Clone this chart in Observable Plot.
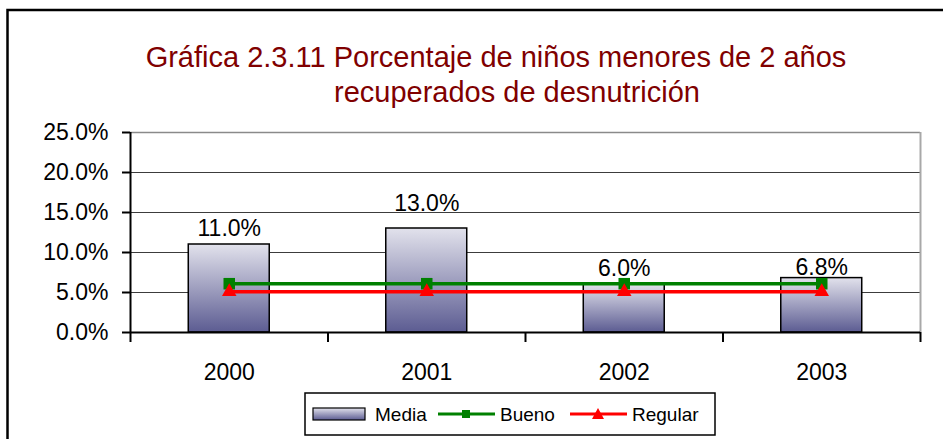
<!DOCTYPE html>
<html><head><meta charset="utf-8">
<script src="https://cdn.jsdelivr.net/npm/d3@7"></script>
<script src="https://cdn.jsdelivr.net/npm/@observablehq/plot@0.6"></script>
<style>
body{margin:0;background:#fff;font-family:"Liberation Sans",Arial,sans-serif;}
#wrap{position:relative;width:943px;height:439px;overflow:hidden;background:#fff;}
#chart{position:absolute;left:0;top:0;}
#overlay{position:absolute;left:0;top:0;pointer-events:none;}
</style></head><body>
<div id="wrap"><div id="chart"></div><svg id="overlay" width="943" height="439"></svg></div>
<script>
// ---- data ----
const years = [2000, 2001, 2002, 2003];
const media = [0.110, 0.130, 0.060, 0.068];
const bueno = [0.061, 0.061, 0.061, 0.061];
const regular = [0.051, 0.051, 0.051, 0.051];
const yTicks = [0, 0.05, 0.10, 0.15, 0.20, 0.25];
const seriesNames = ["Media", "Bueno", "Regular"];
const titleLines = ["Gráfica 2.3.11 Porcentaje de niños menores de 2 años", "recuperados de desnutrición"];

// ---- styling (not data) ----
const labelDy = [-9, -18, -9, -3];
const FONT = '"Liberation Sans", Arial, sans-serif';
const GREEN = "#008000", RED = "#ff0000";

const rows = years.map((y, i) => ({year: y, media: media[i], bueno: bueno[i], regular: regular[i]}));
const bounds = years.map(y => y - 0.5).concat([years[years.length - 1] + 0.5]);
const pct = d3.format(".1%");

const labelMarks = rows.map((r, i) => Plot.text([r], {
  x: "year", y: "media", text: d => pct(d.media), dy: labelDy[i],
  lineAnchor: "bottom", fontSize: 23, fill: "#000"
}));

const chart = Plot.plot({
  width: 943, height: 439,
  marginLeft: 130, marginRight: 23, marginTop: 132, marginBottom: 107,
  style: {fontFamily: FONT, fontSize: "23px", color: "#000", background: "transparent", overflow: "visible"},
  x: {type: "linear", domain: [bounds[0], bounds[bounds.length - 1]]},
  y: {domain: [0, 0.25]},
  marks: [
    Plot.ruleY(yTicks.slice(1, -1), {stroke: "#3c3c3c", strokeWidth: 1}),
    Plot.ruleY([yTicks[yTicks.length - 1]], {stroke: "#8a8a8a", strokeWidth: 1.5}),
    Plot.ruleX([bounds[bounds.length - 1]], {y1: 0, y2: 0.25, stroke: "#a8a8a8", strokeWidth: 2}),
    Plot.rect(rows, {x1: d => d.year - 0.205, x2: d => d.year + 0.205, y1: 0, y2: "media",
      fill: "url(#barGrad)", stroke: "#000", strokeWidth: 1.5}),
    Plot.line(rows, {x: "year", y: "bueno", stroke: GREEN, strokeWidth: 3.5}),
    Plot.line(rows, {x: "year", y: "regular", stroke: RED, strokeWidth: 3.5}),
    Plot.dot(rows, {x: "year", y: "bueno", symbol: "square", fill: GREEN, r: 6.5}),
    Plot.dot(rows, {x: "year", y: "regular", symbol: "triangle", fill: RED, r: 5.4}),
    ...labelMarks,
    Plot.axisY({ticks: yTicks, tickFormat: pct, tickSize: 8, tickPadding: 14, label: null,
      fontSize: 23, strokeWidth: 2}),
    Plot.ruleX([bounds[0]], {y1: 0, y2: 0.25, stroke: "#000", strokeWidth: 2}),
    Plot.ruleY([0], {stroke: "#000", strokeWidth: 2}),
    Plot.axisX({ticks: bounds, tickSize: 10, tickFormat: () => "", strokeWidth: 2, label: null}),
    Plot.axisX({ticks: years, tickSize: 0, tickPadding: 31, tickFormat: d => String(d),
      label: null, fontSize: 23})
  ]
});

// gradient for bars
const defs = d3.select(chart).insert("defs", ":first-child");
const g = defs.append("linearGradient").attr("id", "barGrad")
  .attr("x1", 0).attr("y1", 0).attr("x2", 0).attr("y2", 1);
g.append("stop").attr("offset", "0%").attr("stop-color", "#e2e2ec");
g.append("stop").attr("offset", "100%").attr("stop-color", "#5c5c92");
document.getElementById("chart").appendChild(chart);

// ---- overlay: frame, title, legend ----
const ov = d3.select("#overlay");
const od = ov.append("defs").append("linearGradient").attr("id", "legGrad")
  .attr("x1", 0).attr("y1", 0).attr("x2", 0).attr("y2", 1);
od.append("stop").attr("offset", "0%").attr("stop-color", "#e2e2ec");
od.append("stop").attr("offset", "100%").attr("stop-color", "#5c5c92");

ov.append("rect").attr("x", 7.5).attr("y", 10).attr("width", 1200).attr("height", 1200)
  .attr("fill", "none").attr("stroke", "#000").attr("stroke-width", 2.5);

const titlePos = [[496, 67], [517, 102]];
titleLines.forEach((t, i) => {
  ov.append("text").attr("x", titlePos[i][0]).attr("y", titlePos[i][1])
    .attr("text-anchor", "middle").attr("font-family", FONT).attr("font-size", 29)
    .attr("fill", "#800000").text(t);
});

// legend
const L = ov.append("g").attr("font-family", FONT).attr("font-size", 19);
L.append("rect").attr("x", 305).attr("y", 393).attr("width", 410).attr("height", 42)
  .attr("fill", "#fff").attr("stroke", "#000").attr("stroke-width", 1.5);
L.append("rect").attr("x", 313).attr("y", 408).attr("width", 52).attr("height", 12)
  .attr("fill", "url(#legGrad)").attr("stroke", "#000").attr("stroke-width", 1.2);
L.append("text").attr("x", 375).attr("y", 421).text(seriesNames[0]);
L.append("line").attr("x1", 438).attr("x2", 495).attr("y1", 414).attr("y2", 414)
  .attr("stroke", GREEN).attr("stroke-width", 3);
L.append("rect").attr("x", 462).attr("y", 410).attr("width", 8).attr("height", 8).attr("fill", GREEN);
L.append("text").attr("x", 500).attr("y", 421).text(seriesNames[1]);
L.append("line").attr("x1", 570).attr("x2", 627).attr("y1", 414).attr("y2", 414)
  .attr("stroke", RED).attr("stroke-width", 3);
L.append("path").attr("d", "M598,408 L604,419 L592,419 Z").attr("fill", RED);
L.append("text").attr("x", 632).attr("y", 421).text(seriesNames[2]);
</script>
</body></html>
